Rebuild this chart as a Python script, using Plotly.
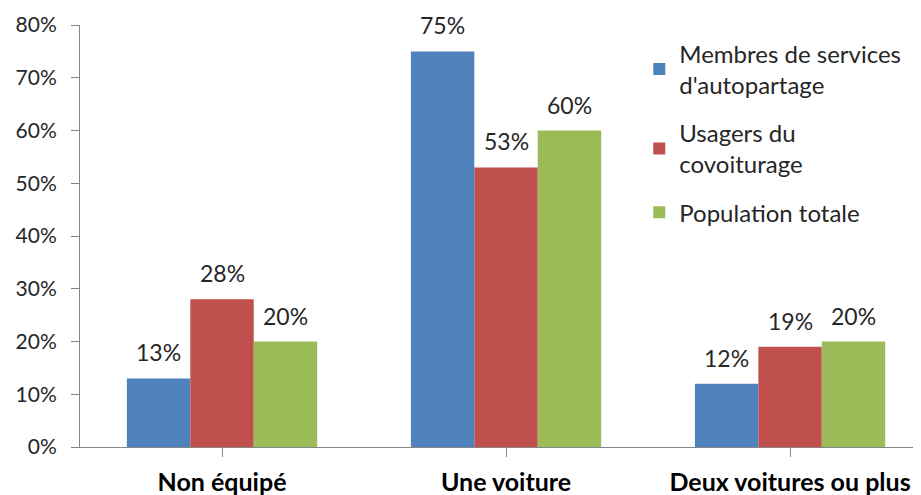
import plotly.graph_objects as go

categories = ["Non équipé", "Une voiture", "Deux voitures ou plus"]
series_names = ["Membres de services<br>d'autopartage", "Usagers du<br>covoiturage", "Population totale"]
membres = [0.13, 0.75, 0.12]
usagers = [0.28, 0.53, 0.19]
population = [0.20, 0.60, 0.20]
y_ticks = [0, 0.1, 0.2, 0.3, 0.4, 0.5, 0.6, 0.7, 0.8]

colors = ["#4F81BD", "#C0504D", "#9BBB59"]
FONT = "Lato, 'Open Sans', sans-serif"

fig = go.Figure()
all_series = [membres, usagers, population]
for k, (name, vals, col) in enumerate(zip(series_names, all_series, colors)):
    fig.add_trace(go.Bar(x=list(range(len(categories))), y=vals, name=name,
                         legendgroup=f"g{k}",
                         marker=dict(color=col, line=dict(width=0))))

bar_w = (1 - 0.33) / 3
annotations = []
for i, vals in enumerate(all_series):
    off = (i - 1) * bar_w
    for j, v in enumerate(vals):
        annotations.append(dict(x=j + off, y=v, xref="x", yref="y",
                                text=f"{round(v*100)}%", showarrow=False,
                                yanchor="bottom", yshift=10,
                                font=dict(size=23, color="#262626", family=FONT)))

fig.update_layout(
    width=913, height=487,
    margin=dict(l=72, r=0, t=17, b=48, autoexpand=False),
    paper_bgcolor="white", plot_bgcolor="white",
    barmode="group", bargap=0.33, bargroupgap=0,
    font=dict(family=FONT, size=20, color="#262626"),
    annotations=annotations,
    legend=dict(x=0.665, y=0.985, xanchor="left", yanchor="top",
                font=dict(size=24, family=FONT, color="#262626"),
                bgcolor="rgba(0,0,0,0)", tracegroupgap=14,
                itemwidth=30),
    showlegend=True,
)
fig.update_xaxes(
    tickmode="array", tickvals=list(range(len(categories))), ticktext=categories,
    range=[-0.5, 2.461], tickson="boundaries", ticks="outside", ticklen=9,
    tickcolor="#868686", showline=True, linecolor="#868686", linewidth=1,
    showgrid=False, zeroline=False, ticklabelstandoff=4,
    tickfont=dict(size=25, family=FONT, color="black", weight="bold"),
)
fig.update_yaxes(
    range=[0, 0.8], tickvals=y_ticks, tickformat=".0%", ticks="outside", ticklen=8,
    tickcolor="#868686", showline=True, linecolor="#868686", linewidth=1,
    showgrid=False, zeroline=False, ticklabelstandoff=10,
    tickfont=dict(size=21, family=FONT, color="#262626"),
)
fig.write_html("out.html")
